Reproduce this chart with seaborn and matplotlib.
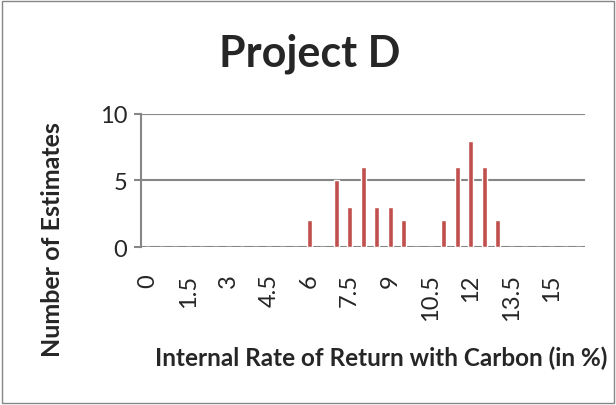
import pandas as pd
import seaborn as sns
import matplotlib
matplotlib.use('Agg')
import matplotlib.pyplot as plt

# IRR bins (in %) and number of estimates per bin
irr_bins = ['0', '0.5', '1', '1.5', '2', '2.5', '3', '3.5', '4', '4.5', '5',
            '5.5', '6', '6.5', '7', '7.5', '8', '8.5', '9', '9.5', '10',
            '10.5', '11', '11.5', '12', '12.5', '13', '13.5', '14', '14.5',
            '15', '15.5', '16']
estimates = [0, 0, 0, 0, 0, 0, 0, 0, 0, 0, 0,
             0, 2, 0, 5, 3, 6, 3, 3, 2, 0,
             0, 2, 6, 8, 6, 2, 0, 0, 0,
             0, 0, 0]
shown_ticks = ['0', '1.5', '3', '4.5', '6', '7.5', '9', '10.5', '12', '13.5', '15']
y_ticks = [0, 5, 10]

df = pd.DataFrame({'irr': irr_bins, 'count': estimates})

sns.set_theme(style='white')
plt.rcParams['font.family'] = ['Lato', 'DejaVu Sans']

fig = plt.figure(figsize=(6.16, 4.06), dpi=100)
ax = fig.add_axes([0.229, 0.389, 0.721, 0.328])

sns.barplot(data=df, x='irr', y='count', order=irr_bins, color='#C0504D',
            saturation=1, width=0.37, ax=ax)

ax.set_ylim(0, 10)
ax.set_yticks(y_ticks)
ax.set_yticklabels([str(v) for v in y_ticks], fontsize=17)
ax.yaxis.grid(True, color='#868686', linewidth=1.5)
ax.set_axisbelow(True)

ax.set_xticks([irr_bins.index(t) for t in shown_ticks])
ax.set_xticklabels(shown_ticks, rotation=90, fontsize=17)
ax.tick_params(axis='x', length=0, pad=19)
ax.tick_params(axis='y', left=True, length=5, width=1.5, color='#868686', pad=5)

for s in ['top', 'right', 'bottom']:
    ax.spines[s].set_visible(False)
ax.spines['left'].set_color('#868686')
ax.spines['left'].set_linewidth(1.5)

ax.set_xlabel('')
ax.set_ylabel('')

fig.text(0.502, 0.835, 'Project D', ha='center', va='baseline',
         fontsize=31, fontweight='bold')
fig.text(0.086, 0.411, 'Number of Estimates', ha='center', va='center',
         rotation=90, fontsize=18, fontweight='bold')
fig.text(0.619, 0.118, 'Internal Rate of Return with Carbon (in %)',
         ha='center', va='center', fontsize=17.5, fontweight='bold')

# chart border
fig.patches.append(plt.Rectangle((0.004, 0.004), 0.992, 0.99,
                                 transform=fig.transFigure, fill=False,
                                 edgecolor='#868686', linewidth=1))

fig.savefig('out.png', dpi=100)
